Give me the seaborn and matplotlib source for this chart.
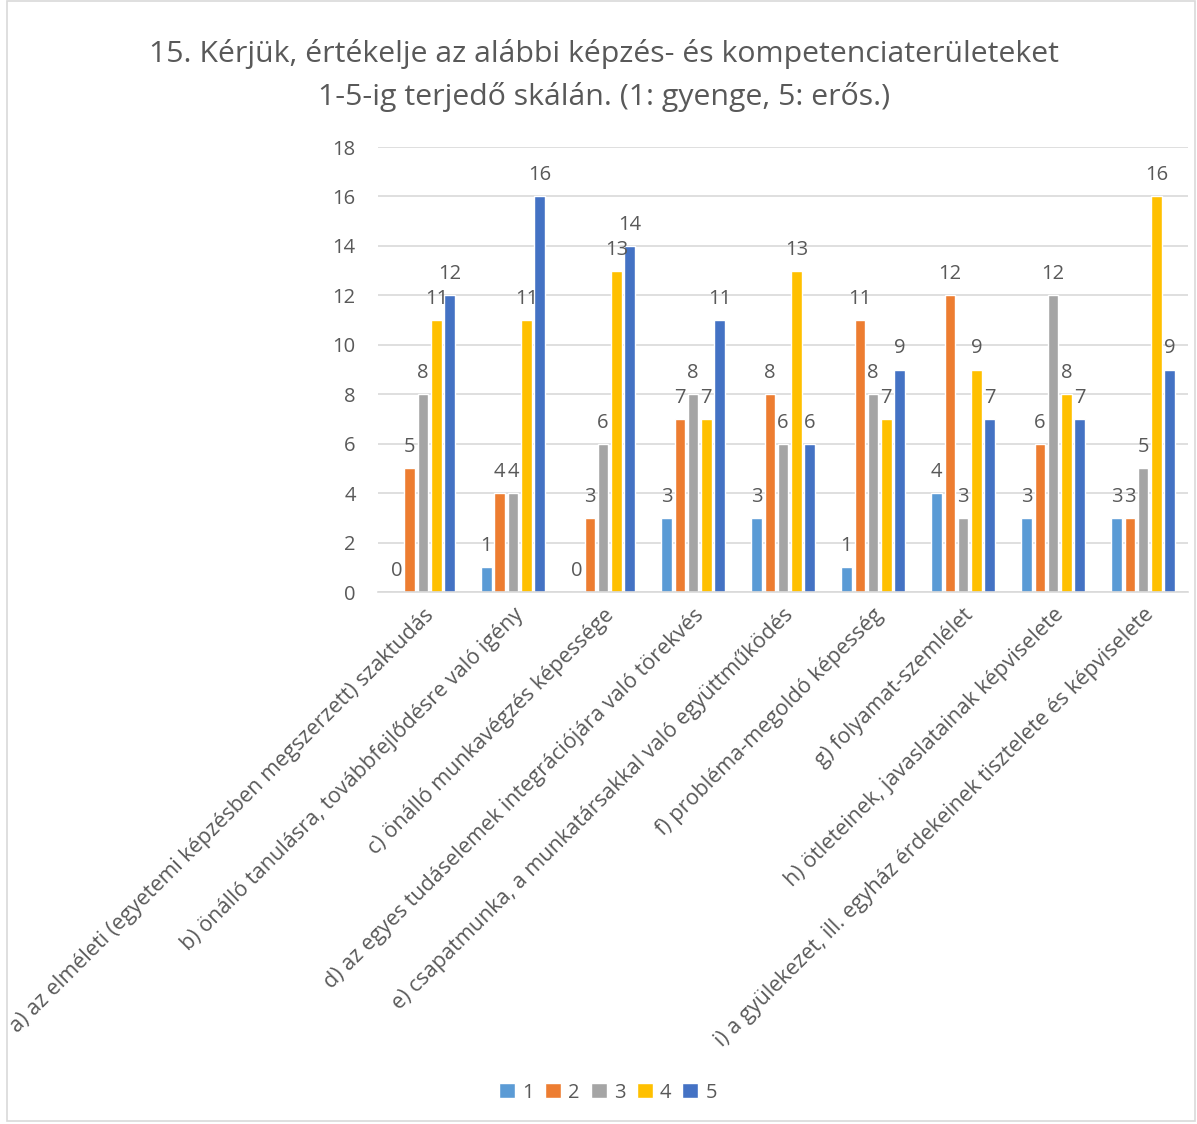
import pandas as pd
import numpy as np
import matplotlib
matplotlib.use("Agg")
import matplotlib.pyplot as plt
import seaborn as sns
from matplotlib.patches import Rectangle

sns.set_theme(style="whitegrid")
plt.rcParams["font.family"] = ["Open Sans", "DejaVu Sans"]

TXT = "#595959"
GRID = "#D9D9D9"

# ---------------------------------------------------------------
# data
# ---------------------------------------------------------------
categories = [
    "a) az elméleti (egyetemi képzésben megszerzett) szaktudás",
    "b) önálló tanulásra, továbbfejlődésre való igény",
    "c) önálló munkavégzés képessége",
    "d) az egyes tudáselemek integrációjára való törekvés",
    "e) csapatmunka, a munkatársakkal való együttműködés",
    "f) probléma-megoldó képesség",
    "g) folyamat-szemlélet",
    "h) ötleteinek, javaslatainak képviselete",
    "i) a gyülekezet, ill. egyház érdekeinek tisztelete és képviselete",
]
scores = ["1", "2", "3", "4", "5"]
s1 = [0, 1, 0, 3, 3, 1, 4, 3, 3]
s2 = [5, 4, 3, 7, 8, 11, 12, 6, 3]
s3 = [8, 4, 6, 8, 6, 8, 3, 12, 5]
s4 = [11, 11, 13, 7, 13, 7, 9, 8, 16]
s5 = [12, 16, 14, 11, 6, 9, 7, 7, 9]
colors = ["#5B9BD5", "#ED7D31", "#A5A5A5", "#FFC000", "#4472C4"]

rows = []
for score, vals in zip(scores, [s1, s2, s3, s4, s5]):
    for cat, v in zip(categories, vals):
        rows.append({"category": cat, "score": score, "count": v})
df = pd.DataFrame(rows)

# ---------------------------------------------------------------
# plot
# ---------------------------------------------------------------
fig = plt.figure(figsize=(11.97, 11.24), dpi=100)
ax = fig.add_axes([0.3158, 0.4733, 0.9925 - 0.3158, 0.8692 - 0.4733])

sns.barplot(data=df, x="category", y="count", hue="score", order=categories,
            hue_order=scores, palette=colors, width=0.74, gap=0.22,
            saturation=1, ax=ax, legend=True)

for cont in ax.containers:
    ax.bar_label(cont, padding=8, fontsize=14.5, color=TXT)

ax.set_ylim(0, 18)
ax.set_yticks(range(0, 19, 2))
ax.set_xlabel("")
ax.set_ylabel("")
ax.grid(axis="y", color=GRID, linewidth=1.2)
ax.grid(axis="x", visible=False)
for side in ["left", "right", "top"]:
    ax.spines[side].set_visible(False)
ax.spines["bottom"].set_color(GRID)
ax.spines["bottom"].set_linewidth(1.2)
ax.tick_params(axis="both", length=0, colors=TXT)
ax.tick_params(axis="y", pad=16, labelsize=14.5)
ax.tick_params(axis="x", pad=9, labelsize=15.5)
plt.setp(ax.get_xticklabels(), rotation=45, ha="right", rotation_mode="anchor")

handles, labels = ax.get_legend_handles_labels()
ax.get_legend().remove()
leg = fig.legend(handles, labels, loc="center", bbox_to_anchor=(0.508, 0.028),
                 ncol=5, frameon=False, fontsize=14.5, handlelength=0.8,
                 handleheight=0.8, handletextpad=0.35, columnspacing=0.55)
for t in leg.get_texts():
    t.set_color(TXT)

fig.text(0.505, 0.933, "15. Kérjük, értékelje az alábbi képzés- és kompetenciaterületeket\n"
         "1-5-ig terjedő skálán. (1: gyenge, 5: erős.)",
         ha="center", va="center", fontsize=21.8, color=TXT, linespacing=1.55)

fig.patches.append(Rectangle((0.006, 0.003), 0.992, 0.996, transform=fig.transFigure,
                             fill=False, edgecolor="#D9D9D9", linewidth=1.2))

plt.savefig("out.png", dpi=100)
plt.close()
